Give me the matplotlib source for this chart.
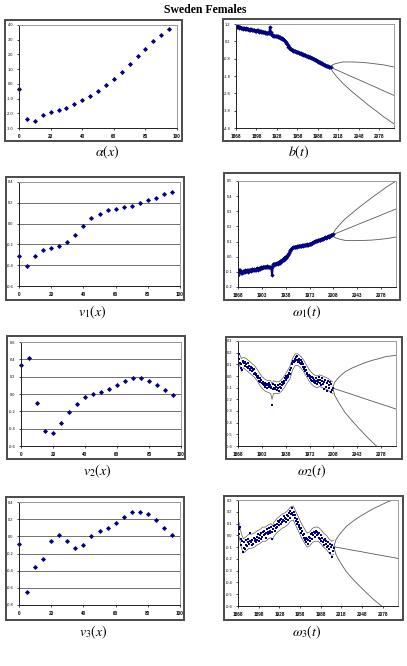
import matplotlib.pyplot as plt
import numpy as np
from matplotlib.patches import Rectangle

plt.rcParams['font.family'] = ['Liberation Sans', 'DejaVu Sans']
plt.rcParams['mathtext.fontset'] = 'stix'

W, H = 407, 666
NAVY = '#000080'
GREY = '#5a5a5a'

# ---- age profiles ----
ages = [0, 5, 10, 15, 20, 25, 30, 35, 40, 45, 50, 55, 60, 65, 70, 75, 80, 85, 90, 95]
alpha = [-0.34, -2.39, -2.52, -2.14, -1.89, -1.77, -1.61, -1.39, -1.09, -0.84,
         -0.48, -0.11, 0.32, 0.80, 1.32, 1.86, 2.36, 2.89, 3.34, 3.73]
v1 = [-0.315, -0.41, -0.31, -0.25, -0.23, -0.22, -0.18, -0.11, -0.02, 0.05,
      0.095, 0.13, 0.145, 0.155, 0.17, 0.20, 0.23, 0.25, 0.28, 0.30]
v2 = [0.335, 0.41, -0.10, -0.43, -0.45, -0.34, -0.21, -0.115, -0.04, 0.00,
      0.023, 0.06, 0.10, 0.155, 0.19, 0.185, 0.15, 0.10, 0.046, -0.015]
v3 = [-0.085, -0.645, -0.36, -0.26, -0.06, 0.02, -0.06, -0.135, -0.10, 0.00,
      0.065, 0.10, 0.15, 0.225, 0.285, 0.285, 0.26, 0.19, 0.10, 0.01]

# ---- period indices 1868-2007 ----
years = list(range(1868, 2008))
b = [1.15, 1.05, 1.02, 1.08, 0.98, 1.00, 1.03, 0.99, 0.97, 0.95,
     0.97, 0.94, 0.96, 0.93, 0.95, 0.92, 0.93, 0.91, 0.90, 0.88,
     0.87, 0.89, 0.91, 0.88, 0.86, 0.87, 0.85, 0.83, 0.82, 0.80,
     0.82, 0.84, 0.83, 0.79, 0.76, 0.77, 0.78, 0.76, 0.73, 0.74,
     0.75, 0.71, 0.70, 0.72, 0.69, 0.70, 0.68, 0.69, 0.70, 0.68,
     1.02, 0.72, 0.60, 0.55, 0.56, 0.52, 0.53, 0.51, 0.50, 0.49,
     0.48, 0.50, 0.45, 0.46, 0.43, 0.42, 0.39, 0.38, 0.36, 0.33,
     0.28, 0.25, 0.22, 0.16, 0.08, 0.02, -0.04, -0.10, -0.15, -0.19,
     -0.23, -0.26, -0.29, -0.31, -0.33, -0.35, -0.37, -0.38, -0.40, -0.41,
     -0.43, -0.44, -0.46, -0.47, -0.48, -0.50, -0.51, -0.53, -0.54, -0.56,
     -0.57, -0.59, -0.60, -0.62, -0.64, -0.66, -0.68, -0.69, -0.71, -0.73,
     -0.75, -0.76, -0.78, -0.80, -0.82, -0.84, -0.86, -0.88, -0.90, -0.92,
     -0.95, -0.97, -0.99, -1.01, -1.03, -1.05, -1.07, -1.09, -1.12, -1.14,
     -1.16, -1.18, -1.20, -1.21, -1.23, -1.25, -1.27, -1.28, -1.29, -1.30]
w1 = [-0.120, -0.090, -0.100, -0.085, -0.105, -0.100, -0.110, -0.100, -0.095, -0.100,
      -0.090, -0.100, -0.095, -0.090, -0.100, -0.090, -0.095, -0.085, -0.090, -0.095,
      -0.085, -0.080, -0.090, -0.085, -0.080, -0.090, -0.085, -0.080, -0.075, -0.085,
      -0.080, -0.075, -0.080, -0.075, -0.070, -0.075, -0.070, -0.065, -0.070, -0.065,
      -0.070, -0.065, -0.070, -0.060, -0.065, -0.070, -0.065, -0.070, -0.075, -0.070,
      -0.120, -0.060, -0.050, -0.045, -0.050, -0.045, -0.050, -0.040, -0.045, -0.040,
      -0.035, -0.040, -0.030, -0.025, -0.030, -0.020, -0.015, -0.020, -0.010, -0.005,
      0.000, -0.010, 0.005, 0.010, 0.020, 0.025, 0.035, 0.045, 0.050, 0.055,
      0.060, 0.065, 0.062, 0.064, 0.066, 0.065, 0.068, 0.067, 0.070, 0.069,
      0.072, 0.071, 0.073, 0.072, 0.075, 0.074, 0.077, 0.076, 0.078, 0.077,
      0.080, 0.079, 0.081, 0.080, 0.083, 0.082, 0.085, 0.087, 0.090, 0.093,
      0.095, 0.097, 0.099, 0.101, 0.104, 0.106, 0.107, 0.109, 0.108, 0.111,
      0.113, 0.112, 0.115, 0.118, 0.120, 0.119, 0.122, 0.125, 0.127, 0.126,
      0.130, 0.132, 0.134, 0.133, 0.137, 0.139, 0.141, 0.143, 0.145, 0.147]
w2 = [0.17, 0.15, 0.19, 0.11, 0.07, 0.10, 0.05, 0.12, 0.13, 0.11,
      0.09, 0.12, 0.10, 0.08, 0.11, 0.07, 0.09, 0.05, 0.06, 0.08,
      0.04, 0.07, 0.05, 0.02, 0.06, 0.03, 0.01, 0.02, -0.01, 0.00,
      -0.02, -0.04, -0.02, -0.05, -0.03, -0.06, -0.07, -0.05, -0.08, -0.06,
      -0.09, -0.08, -0.07, -0.10, -0.08, -0.09, -0.06, -0.08, -0.10, -0.09,
      -0.25, -0.11, -0.07, -0.10, -0.08, -0.11, -0.09, -0.12, -0.08, -0.10,
      -0.13, -0.09, -0.07, -0.10, -0.08, -0.05, -0.07, -0.04, -0.06, -0.02,
      -0.03, 0.00, -0.02, 0.01, -0.01, 0.03, 0.02, 0.05, 0.07, 0.10,
      0.11, 0.13, 0.12, 0.15, 0.13, 0.16, 0.14, 0.17, 0.12, 0.15,
      0.13, 0.11, 0.14, 0.10, 0.12, 0.08, 0.10, 0.06, 0.08, 0.04,
      0.05, 0.02, 0.03, 0.00, 0.01, -0.02, 0.00, -0.03, -0.01, -0.04,
      -0.02, -0.05, -0.03, -0.06, -0.02, -0.04, -0.07, -0.03, -0.05, -0.01,
      -0.06, -0.03, -0.08, -0.04, -0.02, -0.07, -0.11, -0.05, -0.03, -0.09,
      -0.06, -0.13, -0.04, -0.08, -0.10, -0.05, -0.14, -0.07, -0.12, -0.10]
w3 = [0.09, 0.05, 0.01, 0.07, -0.03, -0.08, -0.05, -0.14, -0.11, -0.06,
      -0.12, -0.08, -0.04, -0.09, -0.06, -0.03, -0.07, -0.05, 0.02, -0.06,
      -0.08, -0.04, -0.07, -0.02, -0.05, -0.03, -0.06, -0.01, -0.04, 0.01,
      -0.02, -0.05, 0.00, -0.03, 0.02, -0.01, 0.03, 0.00, 0.04, 0.01,
      -0.02, 0.02, 0.05, 0.01, 0.03, 0.06, 0.02, 0.04, 0.07, 0.03,
      -0.03, 0.05, 0.08, 0.04, 0.09, 0.06, 0.10, 0.07, 0.12, 0.09,
      0.11, 0.13, 0.10, 0.14, 0.11, 0.13, 0.16, 0.12, 0.15, 0.11,
      0.14, 0.17, 0.13, 0.16, 0.19, 0.15, 0.21, 0.18, 0.23, 0.19,
      0.17, 0.20, 0.15, 0.17, 0.12, 0.14, 0.10, 0.11, 0.07, 0.09,
      0.05, 0.06, 0.02, 0.04, 0.00, -0.02, 0.01, -0.04, -0.02, -0.06,
      -0.03, -0.07, -0.04, -0.01, -0.05, -0.02, 0.01, -0.03, 0.02, 0.00,
      0.03, -0.01, 0.02, 0.04, 0.00, 0.03, 0.01, -0.02, 0.02, -0.03,
      0.00, -0.05, -0.02, -0.06, -0.04, -0.08, -0.03, -0.07, -0.05, -0.10,
      -0.06, -0.09, -0.12, -0.07, -0.15, -0.10, -0.18, -0.08, -0.13, -0.11]

# in-sample bands around w2, w3
band_years = [1868, 1870, 1873, 1876, 1880, 1884, 1888, 1892, 1896, 1900, 1904, 1908, 1912,
              1916, 1918, 1920, 1924, 1928, 1932, 1936, 1940, 1944, 1948, 1952, 1956, 1960,
              1964, 1968, 1972, 1976, 1980, 1984, 1988, 1992, 1996, 2000, 2004, 2007]
w2_hi = [0.20, 0.19, 0.15, 0.16, 0.15, 0.13, 0.11, 0.09, 0.06, 0.02, -0.01, -0.03, -0.04,
         -0.04, -0.07, -0.04, -0.05, -0.05, -0.03, 0.00, 0.04, 0.08, 0.15, 0.19, 0.19, 0.17,
         0.14, 0.10, 0.06, 0.03, 0.01, 0.00, 0.01, 0.00, -0.01, -0.02, -0.04, -0.05]
w2_lo = [0.09, 0.10, 0.04, 0.07, 0.05, 0.03, 0.01, -0.01, -0.04, -0.08, -0.11, -0.13, -0.14,
         -0.15, -0.20, -0.15, -0.15, -0.15, -0.13, -0.10, -0.06, -0.03, 0.05, 0.09, 0.09, 0.07,
         0.04, 0.00, -0.04, -0.07, -0.09, -0.10, -0.09, -0.10, -0.11, -0.12, -0.14, -0.15]
w3_hi = [0.14, 0.10, 0.01, -0.03, -0.01, 0.01, 0.01, 0.02, 0.04, 0.05, 0.07, 0.07, 0.09,
         0.10, 0.08, 0.11, 0.14, 0.16, 0.18, 0.19, 0.21, 0.24, 0.25, 0.20, 0.15, 0.10,
         0.06, 0.02, 0.03, 0.06, 0.07, 0.07, 0.05, 0.02, 0.00, -0.03, -0.05, -0.04]
w3_lo = [0.02, -0.02, -0.11, -0.15, -0.13, -0.11, -0.11, -0.10, -0.08, -0.07, -0.05, -0.05, -0.03,
         -0.02, -0.04, -0.01, 0.02, 0.04, 0.06, 0.07, 0.09, 0.12, 0.13, 0.08, 0.03, -0.02,
         -0.06, -0.10, -0.09, -0.06, -0.05, -0.05, -0.07, -0.10, -0.12, -0.15, -0.17, -0.16]

# ---- forecasts 2007-2100 (central, upper, lower) ----
fan_years = [2007, 2010, 2014, 2018, 2025, 2035, 2045, 2055, 2065, 2075, 2085, 2100]
b_mid = [-1.30, -1.35, -1.42, -1.49, -1.61, -1.79, -1.96, -2.13, -2.31, -2.48, -2.66, -2.92]
b_hi = [-1.30, -1.15, -1.09, -1.05, -0.99, -0.99, -1.00, -1.02, -1.06, -1.11, -1.16, -1.28]
b_lo = [-1.30, -1.55, -1.75, -1.93, -2.23, -2.59, -2.92, -3.24, -3.56, -3.85, -4.16, -4.56]
w1_mid = [0.145, 0.150, 0.158, 0.165, 0.178, 0.196, 0.215, 0.233, 0.251, 0.269, 0.288, 0.315]
w1_hi = [0.145, 0.173, 0.195, 0.215, 0.248, 0.286, 0.323, 0.358, 0.392, 0.424, 0.457, 0.500]
w1_lo = [0.145, 0.127, 0.121, 0.115, 0.108, 0.106, 0.107, 0.108, 0.110, 0.114, 0.119, 0.130]
w2_mid = [-0.103, -0.109, -0.117, -0.124, -0.138, -0.157, -0.177, -0.196, -0.216, -0.235, -0.254, -0.283]
w2_up = [-0.103, -0.053, -0.025, -0.001, 0.036, 0.067, 0.092, 0.115, 0.134, 0.149, 0.166, 0.177]
w2_dn = [-0.103, -0.165, -0.209, -0.247, -0.312, -0.381, -0.446, -0.507, -0.566, -0.619, -0.674, -0.743]
w3_mid = [-0.097, -0.100, -0.104, -0.109, -0.116, -0.127, -0.137, -0.148, -0.159, -0.169, -0.180, -0.196]
w3_up = [-0.097, -0.038, -0.002, 0.027, 0.076, 0.121, 0.161, 0.196, 0.229, 0.256, 0.285, 0.312]
w3_dn = [-0.097, -0.162, -0.206, -0.245, -0.308, -0.375, -0.435, -0.492, -0.547, -0.594, -0.645, -0.704]

fig = plt.figure(figsize=(W / 100, H / 100), dpi=100)


def panel(box, area, xticks, yticks, label, lx, ly, grid=False):
    # outer chart frame, pixel coords (x0, y0, x1, y1) from top-left
    x0, y0, x1, y1 = box
    fig.patches.append(Rectangle((x0 / W, 1 - y1 / H), (x1 - x0) / W, (y1 - y0) / H,
                                 transform=fig.transFigure, fill=False, ec='#4a4a4a', lw=1.4))
    x0, y0, x1, y1 = area
    ax = fig.add_axes([x0 / W, 1 - y1 / H, (x1 - x0) / W, (y1 - y0) / H])
    ax.set_xlim(xticks[0], xticks[-1] if xticks[-1] == 100 else 2100)
    ax.set_ylim(min(yticks), max(yticks))
    ax.set_xticks(xticks)
    ax.set_xticklabels([str(t) for t in xticks], fontsize=3.3, fontweight='bold')
    ax.set_yticks(yticks)
    ax.set_yticklabels(['%.1f' % t for t in yticks], fontsize=2.8)
    ax.tick_params(length=1.5, width=0.5, pad=2.5)
    for s in ['left', 'bottom']:
        ax.spines[s].set_color('#202020')
        ax.spines[s].set_linewidth(0.7)
    for s in ['top', 'right']:
        ax.spines[s].set_color('#9a9a9a')
        ax.spines[s].set_linewidth(0.7)
    if grid:
        ax.yaxis.grid(True, color='#5a5a5a', lw=0.6)
        ax.set_axisbelow(True)
    fig.text(lx / W, 1 - ly / H, label, ha='center', va='center', fontsize=10)
    return ax


t30 = [1868, 1898, 1928, 1958, 1988, 2018, 2048, 2078]
t35 = [1868, 1903, 1938, 1973, 2008, 2043, 2078]
x100 = [0, 20, 40, 60, 80, 100]

# alpha(x)
ax = panel((5, 20, 182, 141), (19, 25, 177, 128), x100, [-3.0, -2.0, -1.0, 0.0, 1.0, 2.0, 3.0, 4.0],
           r'$\alpha(x)$', 107, 152)
ax.plot(ages, alpha, 'D', color=NAVY, ms=2.6, mew=0, clip_on=False)

# b(t)
ax = panel((223, 19, 400, 141), (236, 24, 394, 128), t30, [1.2, 0.2, -0.8, -1.8, -2.8, -3.8, -4.8],
           r'$b(t)$', 299, 152)
for f in [b_hi, b_mid, b_lo]:
    ax.plot(fan_years, f, color=GREY, lw=0.6)
ax.plot(years, b, '-D', color=NAVY, lw=1.5, ms=2.2, mew=0)

# v1(x)
ax = panel((6, 177, 184, 300), (19, 182, 180, 286), x100, [-0.6, -0.4, -0.2, 0.0, 0.2, 0.4],
           r'$v_1(x)$', 92, 312, grid=True)
ax.plot(ages, v1, 'D', color=NAVY, ms=2.6, mew=0, clip_on=False)

# omega1(t)
ax = panel((224, 173, 400, 300), (238, 181, 396, 287), t35, [-0.2, -0.1, 0.0, 0.1, 0.2, 0.3, 0.4, 0.5],
           r'$\omega_1(t)$', 307, 312)
for f in [w1_hi, w1_mid, w1_lo]:
    ax.plot(fan_years, f, color=GREY, lw=0.6)
ax.plot(years, w1, '-D', color=NAVY, lw=1.5, ms=2.2, mew=0)

# v2(x)
ax = panel((7, 336, 185, 459), (21, 342, 181, 446), x100, [-0.6, -0.4, -0.2, 0.0, 0.2, 0.4, 0.6],
           r'$v_2(x)$', 97, 471, grid=True)
ax.plot(ages, v2, 'D', color=NAVY, ms=2.6, mew=0, clip_on=False)

# omega2(t)
ax = panel((226, 337, 402, 459), (238, 341, 396, 446), t35,
           [-0.6, -0.5, -0.4, -0.3, -0.2, -0.1, 0.0, 0.1, 0.2, 0.3], r'$\omega_2(t)$', 312, 471)
for f in [w2_up, w2_mid, w2_dn]:
    ax.plot(fan_years, f, color=GREY, lw=0.6)
ax.plot(band_years, w2_hi, color=GREY, lw=0.5)
ax.plot(band_years, w2_lo, color=GREY, lw=0.5)
ax.plot(years, w2, 's', color=NAVY, ms=2.0, mew=0)

# v3(x)
ax = panel((6, 497, 184, 620), (19, 502, 180, 605), x100, [-0.8, -0.6, -0.4, -0.2, 0.0, 0.2, 0.4],
           r'$v_3(x)$', 93, 632, grid=True)
ax.plot(ages, v3, 'D', color=NAVY, ms=2.6, mew=0, clip_on=False)

# omega3(t)
ax = panel((224, 496, 403, 620), (238, 500, 398, 606), t30,
           [-0.6, -0.5, -0.4, -0.3, -0.2, -0.1, 0.0, 0.1, 0.2, 0.3], r'$\omega_3(t)$', 307, 632)
for f in [w3_up, w3_mid, w3_dn]:
    ax.plot(fan_years, f, color=GREY, lw=0.6)
ax.plot(band_years, w3_hi, color=GREY, lw=0.5)
ax.plot(band_years, w3_lo, color=GREY, lw=0.5)
ax.plot(years, w3, 's', color=NAVY, ms=2.0, mew=0)

fig.text(205 / W, 1 - 10 / H, 'Sweden Females', ha='center', va='center',
         fontsize=8.5, fontweight='bold', family='Liberation Serif')

fig.savefig('out.png', dpi=100)
